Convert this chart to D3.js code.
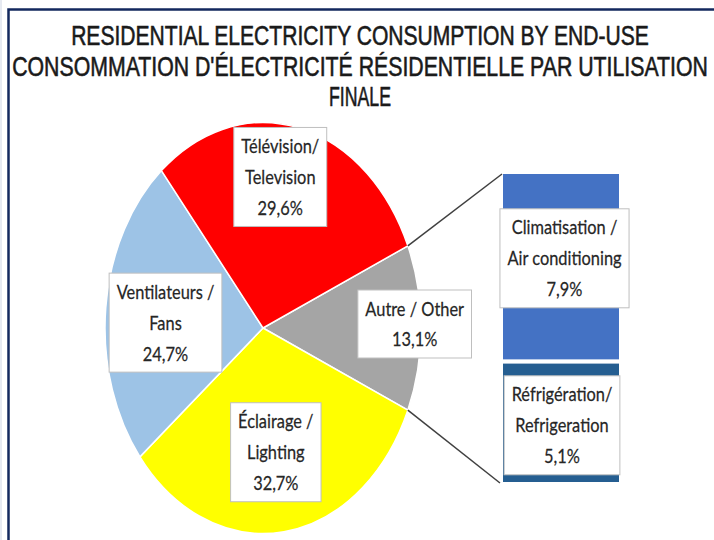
<!DOCTYPE html>
<html>
<head>
<meta charset="utf-8">
<script src="https://cdn.jsdelivr.net/npm/d3@7"></script>
<style>
  body { margin: 0; background: #fff; }
  .lbl { font-family: Lato, "Open Sans", sans-serif; font-size: 20px; fill: #262626; stroke: #262626; stroke-width: 0.25px; }
  .title { font-family: "Liberation Sans Narrow", "Liberation Sans", Arial, sans-serif; font-size: 28px; fill: #1a1a1a; stroke: #1a1a1a; stroke-width: 0.6px; }
</style>
</head>
<body>
<div id="chart"></div>
<script>
// Pie slices, clockwise starting with the "other" slice that is split into the bar
var pieLabels = [["Autre / Other"], ["Éclairage /", "Lighting"], ["Ventilateurs /", "Fans"], ["Télévision/", "Television"]];
var pieValues = [13.1, 32.7, 24.7, 29.6];
var pieColors = ["#a5a5a5", "#ffff00", "#9dc3e6", "#ff0000"];

// Bar breaking down "other"
var barLabels = [["Climatisation /", "Air conditioning"], ["Réfrigération/", "Refrigeration"]];
var barValues = [7.9, 5.1];
var barColors = ["#4472c4", "#255e91"];

var titleLines = ["RESIDENTIAL ELECTRICITY CONSUMPTION BY END-USE",
                  "CONSOMMATION D'ÉLECTRICITÉ RÉSIDENTIELLE PAR UTILISATION",
                  "FINALE"];

// layout only
var labelRadius = [0.96, 0.61, 0.62, 0.755];
var labelNudge = [[0, -4], [0, 0], [0, 7], [-10, 0]];
var barNudge = [[3.5, -8.5], [1, 2.5]];

var svgWidth = 714, svgHeight = 540;
var cx = 263, cy = 328, rx = 158, ry = 205.5;
var sx = 0.82; // horizontal squeeze of the label text

var fmt = function(v) { return d3.format(".1f")(v).replace(".", ",") + "%"; };

var svg = d3.select("#chart").append("svg")
    .attr("width", svgWidth)
    .attr("height", svgHeight);

// frame
svg.append("line").attr("x1", 1).attr("x2", 1).attr("y1", 0).attr("y2", svgHeight)
    .attr("stroke", "#cdd4e4").attr("stroke-width", 1);
svg.append("path").attr("d", "M714,9.5H8.5V540")
    .attr("fill", "none").attr("stroke", "#13285e").attr("stroke-width", 2.5);

// title, squeezed to the widths seen in the picture
var titleLen = [578, 696, 62];
var titleY = [45, 76, 106];
titleLines.forEach(function(t, i) {
    var g = svg.append("g");
    var txt = g.append("text")
        .attr("class", "title")
        .attr("x", 0)
        .attr("y", 0)
        .attr("text-anchor", "middle")
        .text(t);
    var k = titleLen[i] / txt.node().getComputedTextLength();
    g.attr("transform", `translate(360,${titleY[i]}) scale(${k},1)`);
});

// pie
var total = d3.sum(pieValues);
var otherAngle = pieValues[0] / total * 2 * Math.PI;
var start = Math.PI / 2 - otherAngle / 2;
var pie = d3.pie().sort(null).startAngle(start).endAngle(start + 2 * Math.PI);
var arcs = pie(pieValues);
var arc = d3.arc().innerRadius(0).outerRadius(ry);

var pieGroup = svg.append("g")
    .attr("transform", `translate(${cx},${cy}) scale(${rx / ry},1)`);

pieGroup.selectAll("path")
    .data(arcs)
    .enter()
    .append("path")
    .attr("d", arc)
    .attr("fill", (d, i) => pieColors[i])
    .attr("stroke", "#fff")
    .attr("stroke-width", 1.5)
    .attr("vector-effect", "non-scaling-stroke");

function ell(a, r) {
    return [cx + rx * r * Math.sin(a), cy - ry * r * Math.cos(a)];
}

// bar
var barTotal = d3.sum(barValues);
var yScale = d3.scaleLinear().domain([0, barTotal]).range([172, 484]);
var xScale = d3.scaleBand().domain(["other"]).range([501, 621]);
var cum = d3.cumsum(barValues);
var barData = barValues.map((v, i) => ({ v: v, y0: cum[i] - v, y1: cum[i], i: i }));

svg.selectAll(".bar")
    .data(barData)
    .enter()
    .append("rect")
    .attr("class", "bar")
    .attr("x", xScale("other"))
    .attr("width", xScale.bandwidth())
    .attr("y", d => yScale(d.y0))
    .attr("height", d => yScale(d.y1) - yScale(d.y0))
    .attr("fill", d => barColors[d.i])
    .attr("stroke", "#fff")
    .attr("stroke-width", 4);

// connector lines from the "other" slice to the bar
var pTop = ell(arcs[0].startAngle, 1);
var pBot = ell(arcs[0].endAngle, 1);
svg.append("line")
    .attr("x1", pTop[0]).attr("y1", pTop[1])
    .attr("x2", xScale("other") + 1).attr("y2", yScale(0) + 2)
    .attr("stroke", "#404040").attr("stroke-width", 1.5);
svg.append("line")
    .attr("x1", pBot[0]).attr("y1", pBot[1])
    .attr("x2", xScale("other") - 1).attr("y2", yScale(barTotal) - 1)
    .attr("stroke", "#404040").attr("stroke-width", 1.5);

// labels
function drawLabel(x, y, lines) {
    var g = svg.append("g").attr("transform", `translate(${x},${y})`);
    var box = g.append("rect");
    var inner = g.append("g").attr("transform", `scale(${sx},1)`);
    var n = lines.length;
    var maxW = 0;
    lines.forEach(function(t, i) {
        var txt = inner.append("text")
            .attr("class", "lbl")
            .attr("text-anchor", "middle")
            .attr("x", 0)
            .attr("y", (i - (n - 1) / 2) * 31 + 7)
            .text(t);
        maxW = Math.max(maxW, txt.node().getComputedTextLength());
    });
    var w = maxW * sx + 15, h = n * 31 + 6;
    box.attr("x", -w / 2).attr("y", -h / 2)
        .attr("width", w).attr("height", h)
        .attr("fill", "#fff")
        .attr("stroke", "#bfbfbf")
        .attr("stroke-width", 1);
}

arcs.forEach(function(d, i) {
    var mid = (d.startAngle + d.endAngle) / 2;
    var p = ell(mid, labelRadius[i]);
    drawLabel(p[0] + labelNudge[i][0], p[1] + labelNudge[i][1], pieLabels[i].concat([fmt(pieValues[i])]));
});

barData.forEach(function(d, i) {
    var x = xScale("other") + xScale.bandwidth() / 2 + barNudge[i][0];
    var y = (yScale(d.y0) + yScale(d.y1)) / 2 + barNudge[i][1];
    drawLabel(x, y, barLabels[i].concat([fmt(d.v)]));
});
</script>
</body>
</html>
